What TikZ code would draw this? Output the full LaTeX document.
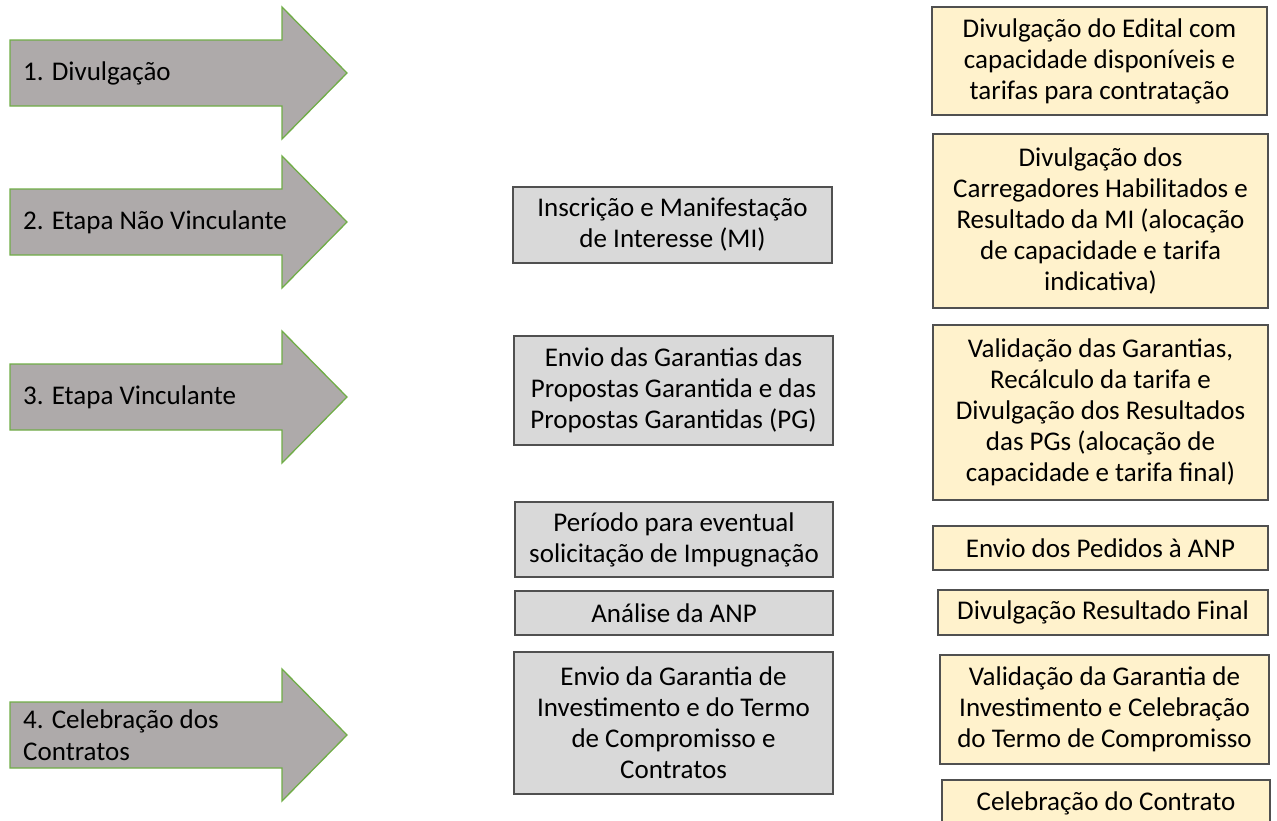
\documentclass[tikz,border=0pt]{standalone}
\usepackage{fontspec}
\setmainfont{Carlito}
\definecolor{arrowfill}{HTML}{AEAAAA}
\definecolor{arrowline}{HTML}{70AD47}
\definecolor{grayfill}{HTML}{D9D9D9}
\definecolor{yellowfill}{HTML}{FFF2CC}
\definecolor{boxline}{HTML}{505050}
\definecolor{txt}{HTML}{000000}
\tikzset{
  phase/.style={fill=arrowfill, draw=arrowline, line width=1.3pt, line join=miter},
  phasetext/.style={anchor=west, align=left, text=txt, font=\fontsize{27}{32}\selectfont, inner sep=0pt},
  basebox/.style={rectangle, draw=boxline, line width=1.2pt, align=center, text=txt,
    font=\fontsize{27}{31}\selectfont, inner sep=0pt},
  graybox/.style={basebox, fill=grayfill},
  yellowbox/.style={basebox, fill=yellowfill}
}
\newcommand{\phasearrow}[1]{%
  \draw[phase] (10,#1-33) -- (282,#1-33) -- (282,#1-66) -- (347,#1) -- (282,#1+66)
    -- (282,#1+33) -- (10,#1+33) -- cycle;}
\begin{document}
\begin{tikzpicture}[x=1pt,y=-1pt]
\useasboundingbox (0,0) rectangle (1277,820);
\clip (0,0) rectangle (1277,820);
% phase arrows
\phasearrow{73}
\node[phasetext] (p1) at (23,73) {1. Divulgação};
\phasearrow{222}
\node[phasetext] (p2) at (23,222) {2. Etapa Não Vinculante};
\phasearrow{397}
\node[phasetext] (p3) at (23,397) {3. Etapa Vinculante};
\phasearrow{735}
\node[phasetext] (p4) at (23,735) {4. Celebração dos\\Contratos};
% gray boxes
\node[graybox, minimum width=319pt, minimum height=76pt] (g1) at (672.5,225)
  {Inscrição e Manifestação\\de Interesse (MI)};
\node[graybox, minimum width=319pt, minimum height=109pt] (g2) at (673.5,390.5)
  {Envio das Garantias das\\Propostas Garantida e das\\Propostas Garantidas (PG)};
\node[graybox, minimum width=318pt, minimum height=75pt] (g3) at (674,539.5)
  {Período para eventual\\solicitação de Impugnação};
\node[graybox, minimum width=318pt, minimum height=44pt] (g4) at (674,613)
  {Análise da ANP};
\node[graybox, minimum width=319pt, minimum height=142pt] (g5) at (673.5,723)
  {Envio da Garantia de\\Investimento e do Termo\\de Compromisso e\\Contratos};
% yellow boxes
\node[yellowbox, minimum width=335pt, minimum height=108pt] (y1) at (1099.5,61)
  {Divulgação do Edital com\\capacidade disponíveis e\\tarifas para contratação};
\node[yellowbox, minimum width=335pt, minimum height=174pt] (y2) at (1100.5,221)
  {Divulgação dos\\Carregadores Habilitados e\\Resultado da MI (alocação\\de capacidade e tarifa\\indicativa)};
\node[yellowbox, minimum width=335pt, minimum height=175pt] (y3) at (1100.5,412.5)
  {Validação das Garantias,\\Recálculo da tarifa e\\Divulgação dos Resultados\\das PGs (alocação de\\capacidade e tarifa final)};
\node[yellowbox, minimum width=335pt, minimum height=44pt] (y4) at (1100.5,548)
  {Envio dos Pedidos à ANP};
\node[yellowbox, minimum width=330pt, minimum height=45pt] (y5) at (1103,612.5)
  {Divulgação Resultado Final};
\node[yellowbox, minimum width=329pt, minimum height=109pt] (y6) at (1104.5,709.5)
  {Validação da Garantia de\\Investimento e Celebração\\do Termo de Compromisso};
\node[yellowbox, minimum width=328pt, minimum height=46pt] (y7) at (1106,803)
  {Celebração do Contrato};
\end{tikzpicture}
\end{document}
